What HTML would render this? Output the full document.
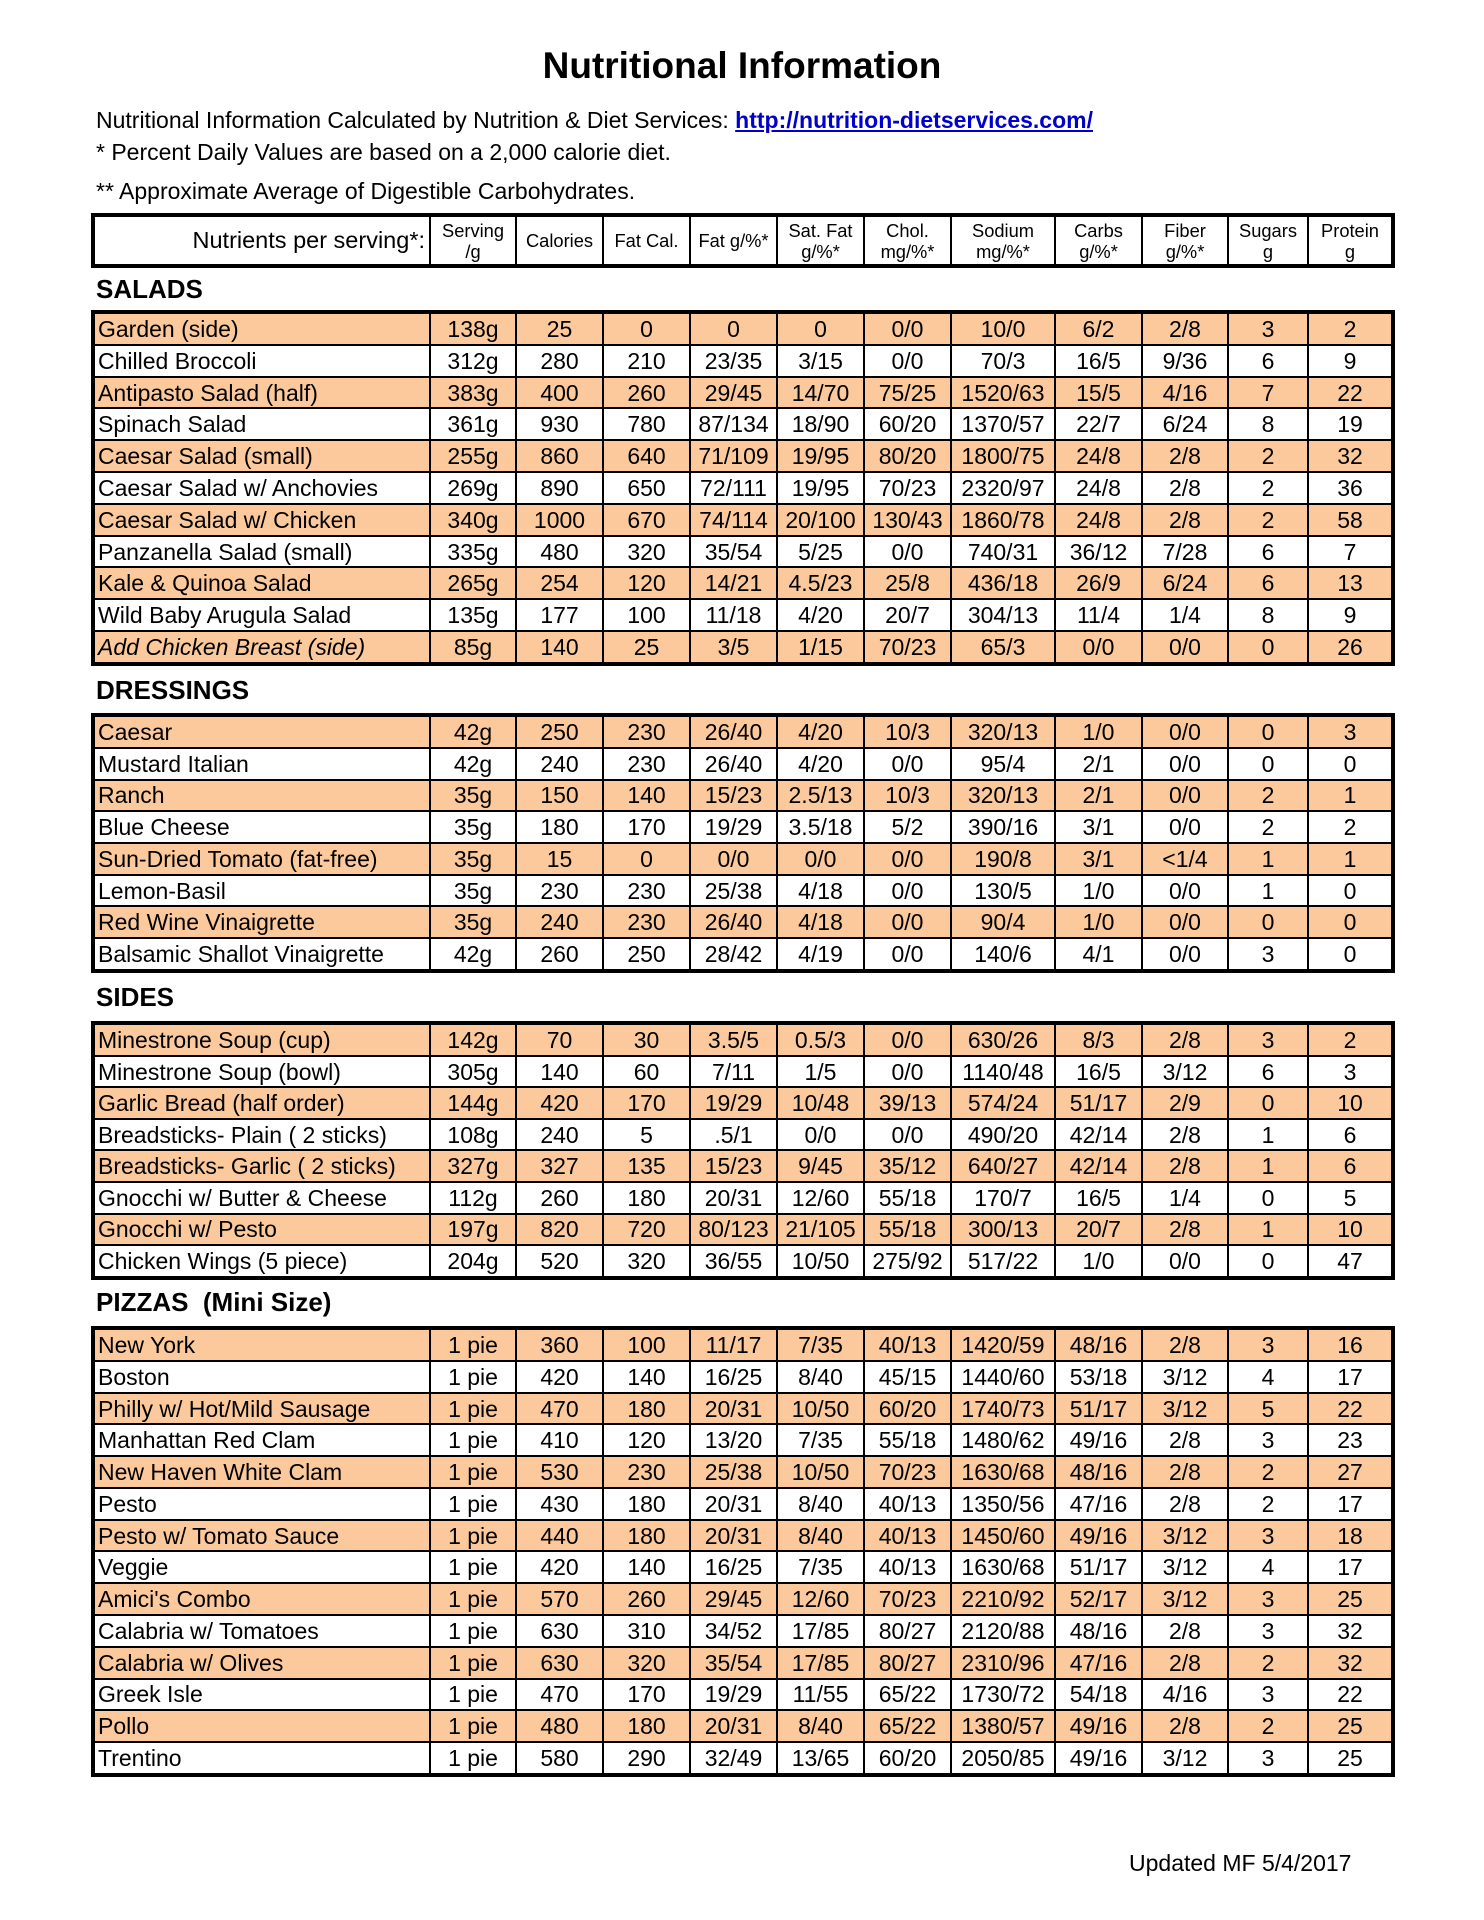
<!DOCTYPE html>
<html><head><meta charset="utf-8">
<style>
body{margin:0;width:1484px;height:1920px;background:#fff;position:relative;font-family:"Liberation Sans",Arial,sans-serif;color:#000;overflow:hidden}
.a{position:absolute;white-space:nowrap}
table{position:absolute;left:91px;width:1300px;border-collapse:collapse;table-layout:fixed;border:4px solid #000}
td{border:2px solid #000;padding:0;text-align:center;font-size:23px;line-height:26px;overflow:hidden;white-space:nowrap}
td:first-child{text-align:left;padding-left:3px}
tr.o td{background:#fbc99b}
tr.i td:first-child{font-style:italic}
.h td{font-size:18.3px;line-height:21px;vertical-align:middle}
.h td:first-child{text-align:right;font-size:23.5px;padding-right:4px}
.sec{position:absolute;left:96px;font-weight:bold;font-size:26px}
</style></head><body>
<div class="a" style="left:0;width:1484px;text-align:center;top:45px;font-size:37px;font-weight:bold">Nutritional Information</div>
<div class="a" style="left:96px;top:107px;font-size:23px">Nutritional Information Calculated by Nutrition &amp; Diet Services: <span style="color:#0000cc;font-weight:bold;text-decoration:underline">http://nutrition-dietservices.com/</span></div>
<div class="a" style="left:96px;top:139px;font-size:23px">* Percent Daily Values are based on a 2,000 calorie diet.</div>
<div class="a" style="left:96px;top:178px;font-size:23px">** Approximate Average of Digestible Carbohydrates.</div>

<table class="h" style="top:213px;height:55px">
<colgroup><col style="width:337px"><col style="width:86px"><col style="width:87px"><col style="width:87px"><col style="width:87px"><col style="width:87px"><col style="width:87px"><col style="width:104px"><col style="width:87px"><col style="width:86px"><col style="width:80px"><col style="width:85px"></colgroup>
<tr><td>Nutrients per serving*:</td><td>Serving<br>/g</td><td>Calories</td><td>Fat Cal.</td><td>Fat g/%*</td><td>Sat. Fat<br>g/%*</td><td>Chol.<br>mg/%*</td><td>Sodium<br>mg/%*</td><td>Carbs<br>g/%*</td><td>Fiber<br>g/%*</td><td>Sugars<br>g</td><td>Protein<br>g</td></tr>
</table>

<div class="sec" style="top:274px">SALADS</div>
<table style="top:310px;height:356px">
<colgroup><col style="width:337px"><col style="width:86px"><col style="width:87px"><col style="width:87px"><col style="width:87px"><col style="width:87px"><col style="width:87px"><col style="width:104px"><col style="width:87px"><col style="width:86px"><col style="width:80px"><col style="width:85px"></colgroup>
<tr class="o"><td>Garden (side)</td><td>138g</td><td>25</td><td>0</td><td>0</td><td>0</td><td>0/0</td><td>10/0</td><td>6/2</td><td>2/8</td><td>3</td><td>2</td></tr>
<tr><td>Chilled Broccoli</td><td>312g</td><td>280</td><td>210</td><td>23/35</td><td>3/15</td><td>0/0</td><td>70/3</td><td>16/5</td><td>9/36</td><td>6</td><td>9</td></tr>
<tr class="o"><td>Antipasto Salad (half)</td><td>383g</td><td>400</td><td>260</td><td>29/45</td><td>14/70</td><td>75/25</td><td>1520/63</td><td>15/5</td><td>4/16</td><td>7</td><td>22</td></tr>
<tr><td>Spinach Salad</td><td>361g</td><td>930</td><td>780</td><td>87/134</td><td>18/90</td><td>60/20</td><td>1370/57</td><td>22/7</td><td>6/24</td><td>8</td><td>19</td></tr>
<tr class="o"><td>Caesar Salad (small)</td><td>255g</td><td>860</td><td>640</td><td>71/109</td><td>19/95</td><td>80/20</td><td>1800/75</td><td>24/8</td><td>2/8</td><td>2</td><td>32</td></tr>
<tr><td>Caesar Salad w/ Anchovies</td><td>269g</td><td>890</td><td>650</td><td>72/111</td><td>19/95</td><td>70/23</td><td>2320/97</td><td>24/8</td><td>2/8</td><td>2</td><td>36</td></tr>
<tr class="o"><td>Caesar Salad w/ Chicken</td><td>340g</td><td>1000</td><td>670</td><td>74/114</td><td>20/100</td><td>130/43</td><td>1860/78</td><td>24/8</td><td>2/8</td><td>2</td><td>58</td></tr>
<tr><td>Panzanella Salad (small)</td><td>335g</td><td>480</td><td>320</td><td>35/54</td><td>5/25</td><td>0/0</td><td>740/31</td><td>36/12</td><td>7/28</td><td>6</td><td>7</td></tr>
<tr class="o"><td>Kale &amp; Quinoa Salad</td><td>265g</td><td>254</td><td>120</td><td>14/21</td><td>4.5/23</td><td>25/8</td><td>436/18</td><td>26/9</td><td>6/24</td><td>6</td><td>13</td></tr>
<tr><td>Wild Baby Arugula Salad</td><td>135g</td><td>177</td><td>100</td><td>11/18</td><td>4/20</td><td>20/7</td><td>304/13</td><td>11/4</td><td>1/4</td><td>8</td><td>9</td></tr>
<tr class="o i"><td>Add Chicken Breast (side)</td><td>85g</td><td>140</td><td>25</td><td>3/5</td><td>1/15</td><td>70/23</td><td>65/3</td><td>0/0</td><td>0/0</td><td>0</td><td>26</td></tr>
</table>

<div class="sec" style="top:675px">DRESSINGS</div>
<table style="top:713px;height:260px">
<colgroup><col style="width:337px"><col style="width:86px"><col style="width:87px"><col style="width:87px"><col style="width:87px"><col style="width:87px"><col style="width:87px"><col style="width:104px"><col style="width:87px"><col style="width:86px"><col style="width:80px"><col style="width:85px"></colgroup>
<tr class="o"><td>Caesar</td><td>42g</td><td>250</td><td>230</td><td>26/40</td><td>4/20</td><td>10/3</td><td>320/13</td><td>1/0</td><td>0/0</td><td>0</td><td>3</td></tr>
<tr><td>Mustard Italian</td><td>42g</td><td>240</td><td>230</td><td>26/40</td><td>4/20</td><td>0/0</td><td>95/4</td><td>2/1</td><td>0/0</td><td>0</td><td>0</td></tr>
<tr class="o"><td>Ranch</td><td>35g</td><td>150</td><td>140</td><td>15/23</td><td>2.5/13</td><td>10/3</td><td>320/13</td><td>2/1</td><td>0/0</td><td>2</td><td>1</td></tr>
<tr><td>Blue Cheese</td><td>35g</td><td>180</td><td>170</td><td>19/29</td><td>3.5/18</td><td>5/2</td><td>390/16</td><td>3/1</td><td>0/0</td><td>2</td><td>2</td></tr>
<tr class="o"><td>Sun-Dried Tomato (fat-free)</td><td>35g</td><td>15</td><td>0</td><td>0/0</td><td>0/0</td><td>0/0</td><td>190/8</td><td>3/1</td><td>&lt;1/4</td><td>1</td><td>1</td></tr>
<tr><td>Lemon-Basil</td><td>35g</td><td>230</td><td>230</td><td>25/38</td><td>4/18</td><td>0/0</td><td>130/5</td><td>1/0</td><td>0/0</td><td>1</td><td>0</td></tr>
<tr class="o"><td>Red Wine Vinaigrette</td><td>35g</td><td>240</td><td>230</td><td>26/40</td><td>4/18</td><td>0/0</td><td>90/4</td><td>1/0</td><td>0/0</td><td>0</td><td>0</td></tr>
<tr><td>Balsamic Shallot Vinaigrette</td><td>42g</td><td>260</td><td>250</td><td>28/42</td><td>4/19</td><td>0/0</td><td>140/6</td><td>4/1</td><td>0/0</td><td>3</td><td>0</td></tr>
</table>

<div class="sec" style="top:982px">SIDES</div>
<table style="top:1021px;height:259px">
<colgroup><col style="width:337px"><col style="width:86px"><col style="width:87px"><col style="width:87px"><col style="width:87px"><col style="width:87px"><col style="width:87px"><col style="width:104px"><col style="width:87px"><col style="width:86px"><col style="width:80px"><col style="width:85px"></colgroup>
<tr class="o"><td>Minestrone Soup (cup)</td><td>142g</td><td>70</td><td>30</td><td>3.5/5</td><td>0.5/3</td><td>0/0</td><td>630/26</td><td>8/3</td><td>2/8</td><td>3</td><td>2</td></tr>
<tr><td>Minestrone Soup (bowl)</td><td>305g</td><td>140</td><td>60</td><td>7/11</td><td>1/5</td><td>0/0</td><td>1140/48</td><td>16/5</td><td>3/12</td><td>6</td><td>3</td></tr>
<tr class="o"><td>Garlic Bread (half order)</td><td>144g</td><td>420</td><td>170</td><td>19/29</td><td>10/48</td><td>39/13</td><td>574/24</td><td>51/17</td><td>2/9</td><td>0</td><td>10</td></tr>
<tr><td>Breadsticks- Plain ( 2 sticks)</td><td>108g</td><td>240</td><td>5</td><td>.5/1</td><td>0/0</td><td>0/0</td><td>490/20</td><td>42/14</td><td>2/8</td><td>1</td><td>6</td></tr>
<tr class="o"><td>Breadsticks- Garlic ( 2 sticks)</td><td>327g</td><td>327</td><td>135</td><td>15/23</td><td>9/45</td><td>35/12</td><td>640/27</td><td>42/14</td><td>2/8</td><td>1</td><td>6</td></tr>
<tr><td>Gnocchi w/ Butter &amp; Cheese</td><td>112g</td><td>260</td><td>180</td><td>20/31</td><td>12/60</td><td>55/18</td><td>170/7</td><td>16/5</td><td>1/4</td><td>0</td><td>5</td></tr>
<tr class="o"><td>Gnocchi w/ Pesto</td><td>197g</td><td>820</td><td>720</td><td>80/123</td><td>21/105</td><td>55/18</td><td>300/13</td><td>20/7</td><td>2/8</td><td>1</td><td>10</td></tr>
<tr><td>Chicken Wings (5 piece)</td><td>204g</td><td>520</td><td>320</td><td>36/55</td><td>10/50</td><td>275/92</td><td>517/22</td><td>1/0</td><td>0/0</td><td>0</td><td>47</td></tr>
</table>

<div class="sec" style="top:1287px">PIZZAS&nbsp; (Mini Size)</div>
<table style="top:1326px;height:451px">
<colgroup><col style="width:337px"><col style="width:86px"><col style="width:87px"><col style="width:87px"><col style="width:87px"><col style="width:87px"><col style="width:87px"><col style="width:104px"><col style="width:87px"><col style="width:86px"><col style="width:80px"><col style="width:85px"></colgroup>
<tr class="o"><td>New York</td><td>1 pie</td><td>360</td><td>100</td><td>11/17</td><td>7/35</td><td>40/13</td><td>1420/59</td><td>48/16</td><td>2/8</td><td>3</td><td>16</td></tr>
<tr><td>Boston</td><td>1 pie</td><td>420</td><td>140</td><td>16/25</td><td>8/40</td><td>45/15</td><td>1440/60</td><td>53/18</td><td>3/12</td><td>4</td><td>17</td></tr>
<tr class="o"><td>Philly w/ Hot/Mild Sausage</td><td>1 pie</td><td>470</td><td>180</td><td>20/31</td><td>10/50</td><td>60/20</td><td>1740/73</td><td>51/17</td><td>3/12</td><td>5</td><td>22</td></tr>
<tr><td>Manhattan Red Clam</td><td>1 pie</td><td>410</td><td>120</td><td>13/20</td><td>7/35</td><td>55/18</td><td>1480/62</td><td>49/16</td><td>2/8</td><td>3</td><td>23</td></tr>
<tr class="o"><td>New Haven White Clam</td><td>1 pie</td><td>530</td><td>230</td><td>25/38</td><td>10/50</td><td>70/23</td><td>1630/68</td><td>48/16</td><td>2/8</td><td>2</td><td>27</td></tr>
<tr><td>Pesto</td><td>1 pie</td><td>430</td><td>180</td><td>20/31</td><td>8/40</td><td>40/13</td><td>1350/56</td><td>47/16</td><td>2/8</td><td>2</td><td>17</td></tr>
<tr class="o"><td>Pesto w/ Tomato Sauce</td><td>1 pie</td><td>440</td><td>180</td><td>20/31</td><td>8/40</td><td>40/13</td><td>1450/60</td><td>49/16</td><td>3/12</td><td>3</td><td>18</td></tr>
<tr><td>Veggie</td><td>1 pie</td><td>420</td><td>140</td><td>16/25</td><td>7/35</td><td>40/13</td><td>1630/68</td><td>51/17</td><td>3/12</td><td>4</td><td>17</td></tr>
<tr class="o"><td>Amici's Combo</td><td>1 pie</td><td>570</td><td>260</td><td>29/45</td><td>12/60</td><td>70/23</td><td>2210/92</td><td>52/17</td><td>3/12</td><td>3</td><td>25</td></tr>
<tr><td>Calabria w/ Tomatoes</td><td>1 pie</td><td>630</td><td>310</td><td>34/52</td><td>17/85</td><td>80/27</td><td>2120/88</td><td>48/16</td><td>2/8</td><td>3</td><td>32</td></tr>
<tr class="o"><td>Calabria w/ Olives</td><td>1 pie</td><td>630</td><td>320</td><td>35/54</td><td>17/85</td><td>80/27</td><td>2310/96</td><td>47/16</td><td>2/8</td><td>2</td><td>32</td></tr>
<tr><td>Greek Isle</td><td>1 pie</td><td>470</td><td>170</td><td>19/29</td><td>11/55</td><td>65/22</td><td>1730/72</td><td>54/18</td><td>4/16</td><td>3</td><td>22</td></tr>
<tr class="o"><td>Pollo</td><td>1 pie</td><td>480</td><td>180</td><td>20/31</td><td>8/40</td><td>65/22</td><td>1380/57</td><td>49/16</td><td>2/8</td><td>2</td><td>25</td></tr>
<tr><td>Trentino</td><td>1 pie</td><td>580</td><td>290</td><td>32/49</td><td>13/65</td><td>60/20</td><td>2050/85</td><td>49/16</td><td>3/12</td><td>3</td><td>25</td></tr>
</table>

<div class="a" style="left:1129px;top:1850px;font-size:23px">Updated MF 5/4/2017</div>
</body></html>
